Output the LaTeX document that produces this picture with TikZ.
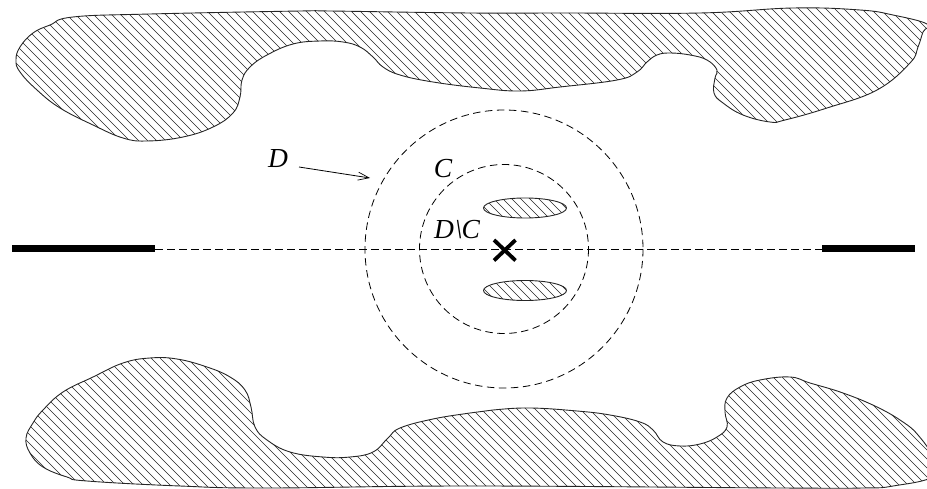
\documentclass[tikz,border=0pt]{standalone}
\usepackage{fontspec}
\setmainfont{Liberation Serif}
\usetikzlibrary{arrows.meta}
\tikzset{
  outline/.style={line width=0.9pt,black!85},
  hatchline/.style={line width=0.55pt,black!85},
  dashline/.style={line width=0.8pt,dash pattern=on 7.5pt off 4.5pt},
  thickbar/.style={line width=7pt},
  lab/.style={font=\fontsize{27.5}{27.5}\selectfont\itshape,inner sep=0pt},
  thinarrow/.style={line width=0.8pt,-{Straight Barb[length=11pt,width=8pt,line width=0.7pt]}}
}
\def\tophatch{(16,60) (20,47) (33,33) (50,25) (73,17) (150,14) (300,11) (330,11) (470,13) (565,13) (700,13) (793,8) (860,10) (893,15) (927,24) (923,32) (918,47) (910,63) (877,90) (827,108) (785,120) (770,122) (743,115) (723,103) (714,93) (715,78) (717,70) (707,60) (690,55) (670,53) (657,55) (647,62) (637,72) (617,80) (560,87) (520,91) (480,88) (433,82) (400,75) (383,67) (373,57) (360,47) (343,42) (320,41) (293,44) (267,55) (250,67) (242,80) (240,97) (233,113) (213,127) (183,137) (147,141) (123,138) (93,125) (60,108) (37,90) (20,72)}
\def\bothatch{(26,438) (33,423) (43,410) (63,392) (93,377) (123,363) (150,358) (177,359) (207,367) (230,377) (245,390) (251,407) (255,427) (267,440) (290,452) (323,457) (350,457) (373,452) (388,438) (400,428) (433,419) (470,413) (493,410) (530,408) (577,411) (610,415) (640,422) (653,430) (663,442) (680,446) (700,444) (717,437) (727,427) (725,412) (727,398) (740,387) (760,380) (790,377) (810,383) (843,393) (877,407) (903,422) (918,435) (932,456) (934,476) (893,486) (863,488) (780,488) (470,486) (267,488) (180,486) (87,481) (67,477) (43,467) (30,453)}
\begin{document}
\begin{tikzpicture}[x=1pt,y=-1pt]
\useasboundingbox (0,0) rectangle (927,489);
% upper region
\begin{scope}
  \clip plot[smooth cycle,tension=0.7] coordinates {\tophatch};
  \foreach \s in {-200,-191,...,1000} \draw[hatchline] (\s,0) -- (\s+200,200);
\end{scope}
\draw[outline] plot[smooth cycle,tension=0.7] coordinates {\tophatch};
% lower region
\begin{scope}
  \clip plot[smooth cycle,tension=0.7] coordinates {\bothatch};
  \foreach \s in {-200,-191,...,1000} \draw[hatchline] (\s,340) -- (\s+200,540);
\end{scope}
\draw[outline] plot[smooth cycle,tension=0.7] coordinates {\bothatch};
% small ellipses
\begin{scope}
  \clip (525,208) ellipse [x radius=41.5,y radius=10];
  \foreach \s in {440,449,...,570} \draw[hatchline] (\s,190) -- (\s+40,230);
\end{scope}
\draw[outline] (525,208) ellipse [x radius=41.5,y radius=10];
\begin{scope}
  \clip (525,290.5) ellipse [x radius=41.5,y radius=10];
  \foreach \s in {440,449,...,570} \draw[hatchline] (\s,272) -- (\s+40,312);
\end{scope}
\draw[outline] (525,290.5) ellipse [x radius=41.5,y radius=10];
% circles and axis
\draw[dashline] (504,249) circle [radius=139];
\draw[dashline] (504,249) circle [radius=84.5];
\coordinate (axisL) at (155,249);
\coordinate (axisR) at (822,249);
\coordinate (barL) at (12,249);
\coordinate (barR) at (915,249);
\draw[dashline] (axisL) -- (axisR);
\draw[thickbar] (barL) -- (axisL);
\draw[thickbar] (axisR) -- (barR);
% cross
\coordinate (xa) at (494,240);
\coordinate (xb) at (515.5,260.5);
\coordinate (xc) at (494,260.5);
\coordinate (xd) at (515.5,240);
\draw[line width=3.8pt] (xa) -- (xb);
\draw[line width=3.8pt] (xc) -- (xd);
% labels
\node[lab] (labD) at (278,159) {D};
\node[lab] (labC) at (443,169) {C};
\node[lab] (labDC) at (457,230) {D\kern1pt\textbackslash\kern-1pt C};
\coordinate (arrowS) at (299,167);
\coordinate (arrowE) at (370,178);
\draw[thinarrow] (arrowS) -- (arrowE);
\end{tikzpicture}
\end{document}
